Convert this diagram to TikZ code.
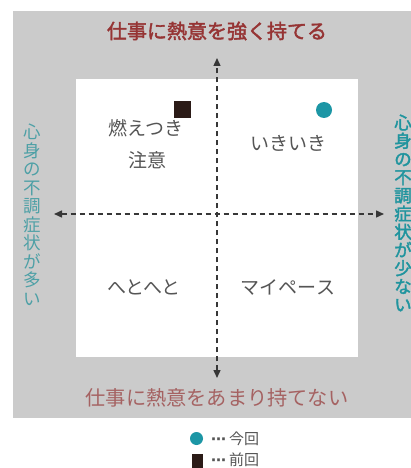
\documentclass[tikz,border=0pt]{standalone}
\usepackage{fontspec}
\setmainfont{Noto Sans CJK JP}
\newfontfamily\jpbold{Noto Sans CJK JP}[FakeBold=2]
\newfontfamily\dejavu{DejaVu Sans}
\usetikzlibrary{arrows.meta}
\definecolor{bggray}{RGB}{203,203,203}
\definecolor{titlered}{RGB}{150,52,52}
\definecolor{lowred}{RGB}{165,98,98}
\definecolor{tealL}{RGB}{78,160,166}
\definecolor{tealR}{RGB}{32,148,158}
\definecolor{quadtext}{RGB}{85,85,85}
\definecolor{dotteal}{RGB}{28,150,165}
\definecolor{sqbrown}{RGB}{43,27,23}
\definecolor{axisgray}{RGB}{55,55,55}
\tikzset{
  axisline/.style={draw=axisgray, line width=1.4pt, dash pattern=on 5pt off 4pt,
    {Triangle[length=8pt,width=7pt]}-{Triangle[length=8pt,width=7pt]}},
  quad/.style={inner sep=0pt, text=quadtext, font=\fontsize{19}{26}\selectfont, align=center},
  vtext/.style={inner sep=0pt, align=center},
  legtext/.style={anchor=west, inner sep=0pt, text=quadtext, font=\fontsize{15}{17}\selectfont},
}
\begin{document}
\begin{tikzpicture}[x=1pt,y=-1pt]
\useasboundingbox (0,0) rectangle (411,468);
\fill[white] (0,0) rectangle (411,468);
\fill[bggray] (13,11) rectangle (411,418);
\fill[white] (76,79) rectangle (358,357);
% axes
\coordinate (top) at (217,58);
\coordinate (bot) at (217,378);
\coordinate (lft) at (54,214);
\coordinate (rgt) at (384,214);
\draw[axisline] (bot) -- (top);
\draw[axisline] (lft) -- (rgt);
% axis labels
\node[inner sep=0pt, text=titlered, font=\jpbold\fontsize{20}{24}\selectfont] (ttl) at (217,31) {仕事に熱意を強く持てる};
\node[inner sep=0pt, text=lowred, font=\fontsize{20.2}{24}\selectfont] (btl) at (217,398) {仕事に熱意をあまり持てない};
\node[vtext, text=tealL, font=\fontsize{17.5}{18.5}\selectfont] (ltl) at (32,215) {心\\身\\の\\不\\調\\症\\状\\が\\多\\い};
\node[vtext, text=tealR, font=\jpbold\fontsize{17.5}{18.2}\selectfont] (rtl) at (403,213) {心\\身\\の\\不\\調\\症\\状\\が\\少\\な\\い};
% quadrant labels
\node[quad] (q1) at (146,128) {燃えつき};
\node[quad] (q1b) at (147,160) {注意};
\node[quad] (q2) at (288,143) {いきいき};
\node[quad] (q3) at (144,287) {へとへと};
\node[quad] (q4) at (288,287) {マイペース};
% markers
\node[fill=sqbrown, minimum size=17pt, inner sep=0pt] (prev) at (182.5,109.5) {};
\node[circle, fill=dotteal, minimum size=16pt, inner sep=0pt] (now) at (324,110) {};
% legend
\node[circle, fill=dotteal, minimum size=13pt, inner sep=0pt] (lgc) at (196.5,438.5) {};
\node[legtext] (lgct) at (211,438.5) {{\dejavu\bfseries ⋯}\kern3pt 今回};
\node[fill=sqbrown, minimum width=11pt, minimum height=14pt, inner sep=0pt] (lgs) at (197.5,461) {};
\node[legtext] (lgst) at (211,460) {{\dejavu\bfseries ⋯}\kern3pt 前回};
\end{tikzpicture}
\end{document}
